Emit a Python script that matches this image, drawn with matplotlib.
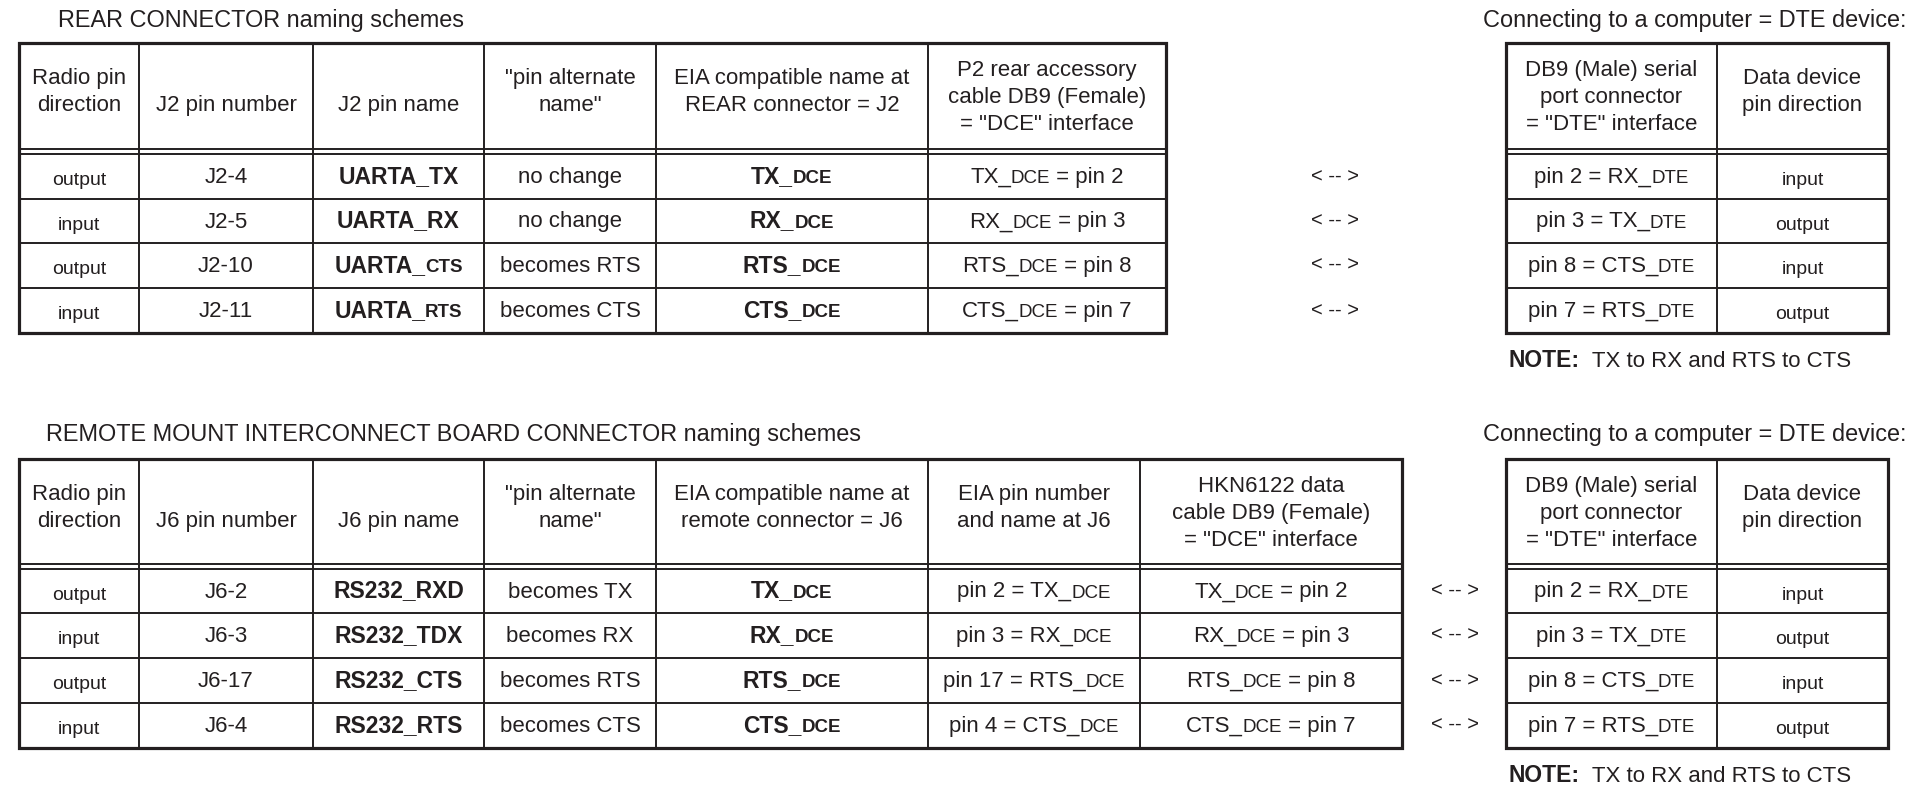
import matplotlib
matplotlib.use("Agg")
import matplotlib.pyplot as plt

plt.rcParams["font.family"] = ["Liberation Sans", "DejaVu Sans"]
INK = "#231f20"

# ---------------- data ----------------
rear_title = "REAR CONNECTOR naming schemes"
remote_title = "REMOTE MOUNT INTERCONNECT BOARD CONNECTOR naming schemes"
dte_title = "Connecting to a computer = DTE device:"
note_label = "NOTE:"
note_text = "  TX to RX and RTS to CTS"
arrow_text = "< -- >"

rear_headers = [["Radio pin", "direction"], ["J2 pin number"], ["J2 pin name"],
                ['"pin alternate', 'name"'],
                ["EIA compatible name at", "REAR connector = J2"],
                ["P2 rear accessory", "cable DB9 (Female)", '= "DCE" interface']]
remote_headers = [["Radio pin", "direction"], ["J6 pin number"], ["J6 pin name"],
                  ['"pin alternate', 'name"'],
                  ["EIA compatible name at", "remote connector = J6"],
                  ["EIA pin number", "and name at J6"],
                  ["HKN6122 data", "cable DB9 (Female)", '= "DCE" interface']]
dte_headers = [["DB9 (Male) serial", "port connector", '= "DTE" interface'],
               ["Data device", "pin direction"]]

radio_dir = ["output", "input", "output", "input"]
j2_pin = ["J2-4", "J2-5", "J2-10", "J2-11"]
j2_name = [("UARTA_TX", ""), ("UARTA_RX", ""), ("UARTA_", "CTS"), ("UARTA_", "RTS")]
j2_alt = ["no change", "no change", "becomes RTS", "becomes CTS"]
eia_signal = ["TX", "RX", "RTS", "CTS"]
p2_pin = [2, 3, 8, 7]

j6_pin = ["J6-2", "J6-3", "J6-17", "J6-4"]
j6_name = ["RS232_RXD", "RS232_TDX", "RS232_CTS", "RS232_RTS"]
j6_alt = ["becomes TX", "becomes RX", "becomes RTS", "becomes CTS"]
j6_eia_pin = [2, 3, 17, 4]
hkn_pin = [2, 3, 8, 7]

dte_pin = [2, 3, 8, 7]
dte_signal = ["RX", "TX", "CTS", "RTS"]
dte_dir = ["input", "output", "input", "output"]

# text styles: size, weight
STY = {"r": (16, "normal"), "b": (16.5, "bold"), "s": (13.5, "normal"),
       "sb": (13.5, "bold"), "d": (14, "normal")}

# ---------------- figure ----------------
fig = plt.figure(figsize=(19.15, 7.91), dpi=100)
ax = fig.add_axes([0, 0, 1, 1])
ax.set_xlim(0, 1915)
ax.set_ylim(791, 0)
ax.axis("off")
renderer = fig.canvas.get_renderer()


def rich(x, y, segs, ha="center"):
    arts = []
    for s, st in segs:
        size, weight = STY[st]
        arts.append(ax.text(x, y, s, fontsize=size, fontweight=weight, color=INK,
                            ha="left", va="baseline"))
    widths = [a.get_window_extent(renderer).width for a in arts]
    cur = x - sum(widths) / 2 if ha == "center" else x
    for a, w in zip(arts, widths):
        a.set_x(cur)
        cur += w


def draw_table(xs, top, hdr, rows_y, headers, cells):
    bottom = rows_y[-1]
    ax.add_patch(plt.Rectangle((xs[0], top), xs[-1] - xs[0], bottom - top,
                               fill=False, lw=2.3, ec=INK, zorder=3))
    for x in xs[1:-1]:
        ax.plot([x, x], [top, bottom], color=INK, lw=1.4)
    for y in [hdr - 5.5, hdr] + list(rows_y[1:-1]):
        ax.plot([xs[0], xs[-1]], [y, y], color=INK, lw=1.4)
    base = {1: [68], 2: [41, 68], 3: [33, 60, 87]}
    for i, lines in enumerate(headers):
        cx = (xs[i] + xs[i + 1]) / 2
        for line, b in zip(lines, base[len(lines)]):
            ax.text(cx, top + b, line, fontsize=16, color=INK, ha="center", va="baseline")
    for i, col in enumerate(cells):
        cx = (xs[i] + xs[i + 1]) / 2
        for r, segs in enumerate(col):
            cy = (rows_y[r] + rows_y[r + 1]) / 2
            off = 8.5 if segs[0][1] == "d" else 6.5
            rich(cx, cy + off, segs)


# ---------------- rear connector ----------------
rear_x = [19.5, 139, 313, 484, 656, 928, 1166]
rear_rows = [154, 199, 243, 288, 333]
rear_cells = [
    [[(d, "d")] for d in radio_dir],
    [[(p, "r")] for p in j2_pin],
    [[(a, "b")] + ([(b, "sb")] if b else []) for a, b in j2_name],
    [[(a, "r")] for a in j2_alt],
    [[(s + "_", "b"), ("DCE", "sb")] for s in eia_signal],
    [[(s + "_", "r"), ("DCE", "s"), (f" = pin {p}", "r")] for s, p in zip(eia_signal, p2_pin)],
]
draw_table(rear_x, 43, 154, rear_rows, rear_headers, rear_cells)

# ---------------- remote mount ----------------
remote_x = [19.5, 139, 313, 484, 656, 928, 1140, 1402]
remote_rows = [569, 613, 658, 703, 748]
remote_cells = [
    [[(d, "d")] for d in radio_dir],
    [[(p, "r")] for p in j6_pin],
    [[(n, "b")] for n in j6_name],
    [[(a, "r")] for a in j6_alt],
    [[(s + "_", "b"), ("DCE", "sb")] for s in eia_signal],
    [[(f"pin {p} = {s}_", "r"), ("DCE", "s")] for s, p in zip(eia_signal, j6_eia_pin)],
    [[(s + "_", "r"), ("DCE", "s"), (f" = pin {p}", "r")] for s, p in zip(eia_signal, hkn_pin)],
]
draw_table(remote_x, 459, 569, remote_rows, remote_headers, remote_cells)

# ---------------- DTE side tables ----------------
dte_x = [1506, 1717, 1888]
dte_cells = [
    [[(f"pin {p} = {s}_", "r"), ("DTE", "s")] for p, s in zip(dte_pin, dte_signal)],
    [[(d, "d")] for d in dte_dir],
]
for top, hdr, rows_y, arrow_x, title_y, note_y in [
        (43, 154, rear_rows, 1335, 27, 367),
        (459, 569, remote_rows, 1455, 441, 782)]:
    draw_table(dte_x, top, hdr, rows_y, dte_headers, dte_cells)
    for r in range(4):
        cy = (rows_y[r] + rows_y[r + 1]) / 2
        ax.text(arrow_x, cy + 5, arrow_text, fontsize=14.5, color=INK,
                ha="center", va="baseline")
    ax.text(1907, title_y, dte_title, fontsize=16.9, color=INK, ha="right", va="baseline")
    rich(1509, note_y, [(note_label, "b"), (note_text, "r")], ha="left")

ax.text(58, 27, rear_title, fontsize=16.9, color=INK, ha="left", va="baseline")
ax.text(46, 441, remote_title, fontsize=16.9, color=INK, ha="left", va="baseline")

fig.savefig("out.png", dpi=100, facecolor="white")
